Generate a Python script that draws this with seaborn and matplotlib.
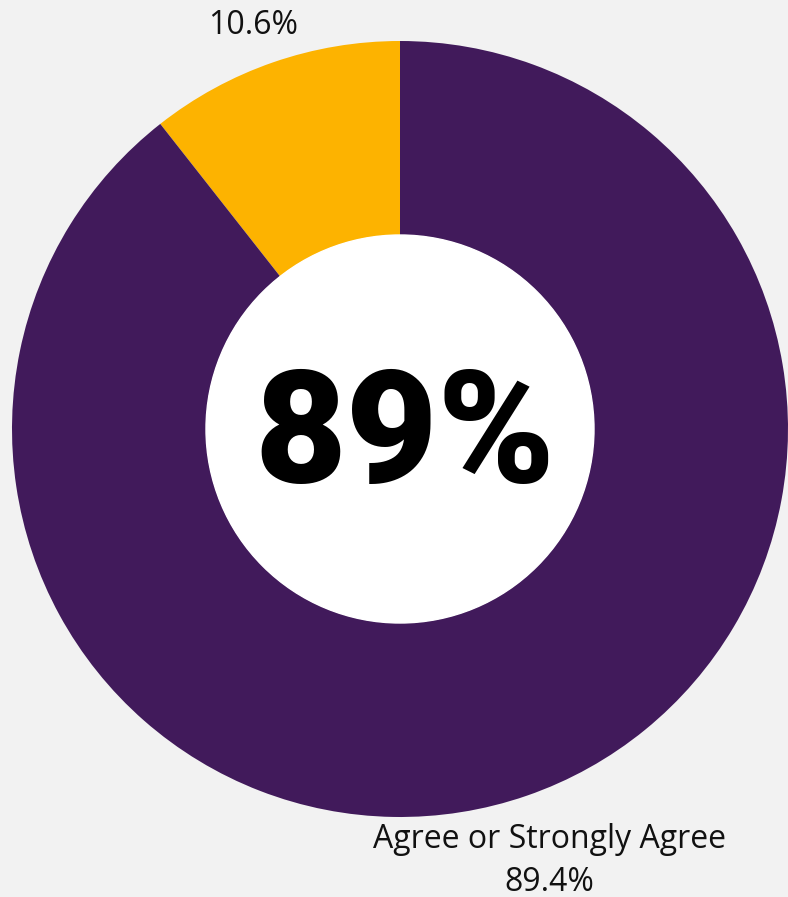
import matplotlib
matplotlib.use("Agg")
import matplotlib.pyplot as plt
import seaborn as sns
import numpy as np

# Survey response shares (percent)
categories = ["Other", "Agree or Strongly Agree"]
values = [10.6, 89.4]
colors = ["#FDB300", "#411A5B"]
label_texts = ["10.6%", "Agree or Strongly Agree\n89.4%"]

sns.set_style("white")
plt.rcParams["font.family"] = ["Open Sans", "DejaVu Sans"]

bg = "#f2f2f2"
R_PX = 388.0
CX, CY = 400.0, 429.0
W, H = 788.0, 897.0

fig = plt.figure(figsize=(W / 100, H / 100), dpi=100, facecolor=bg)
ax = fig.add_axes([0, 0, 1, 1])
ax.set_facecolor(bg)

ring = 0.50
wedges, _ = ax.pie(
    values,
    colors=colors,
    startangle=90,
    counterclock=True,
    radius=1.0,
    wedgeprops=dict(width=ring, edgecolor="none", linewidth=0),
)

# inner hole filled white
ax.add_patch(plt.Circle((0, 0), 1.0 - ring, color="white", zorder=3))

# slice labels placed along each slice's mid angle
total = sum(values)
start = 90.0
label_dist = [1.10, 1.178]
x_nudge = [-0.02, 0.0]
for v, txt, d, nx in zip(values, label_texts, label_dist, x_nudge):
    mid = np.deg2rad(start + 360.0 * v / total / 2)
    start += 360.0 * v / total
    x = d * np.cos(mid) + nx
    y = d * np.sin(mid)
    ax.text(x, y, txt, ha="center", va="center", fontsize=23,
            color="#111111", linespacing=1.38, zorder=4)

ax.text(0.012, -0.026, f"{round(values[1])}%", ha="center", va="center",
        fontsize=114, fontweight="black", family=["Roboto", "DejaVu Sans"],
        color="black", zorder=5)

ax.set_aspect("auto")
ax.set_xlim(-CX / R_PX, (W - CX) / R_PX)
ax.set_ylim(-(H - CY) / R_PX, CY / R_PX)
ax.axis("off")

fig.savefig("out.png", dpi=100, facecolor=bg)
